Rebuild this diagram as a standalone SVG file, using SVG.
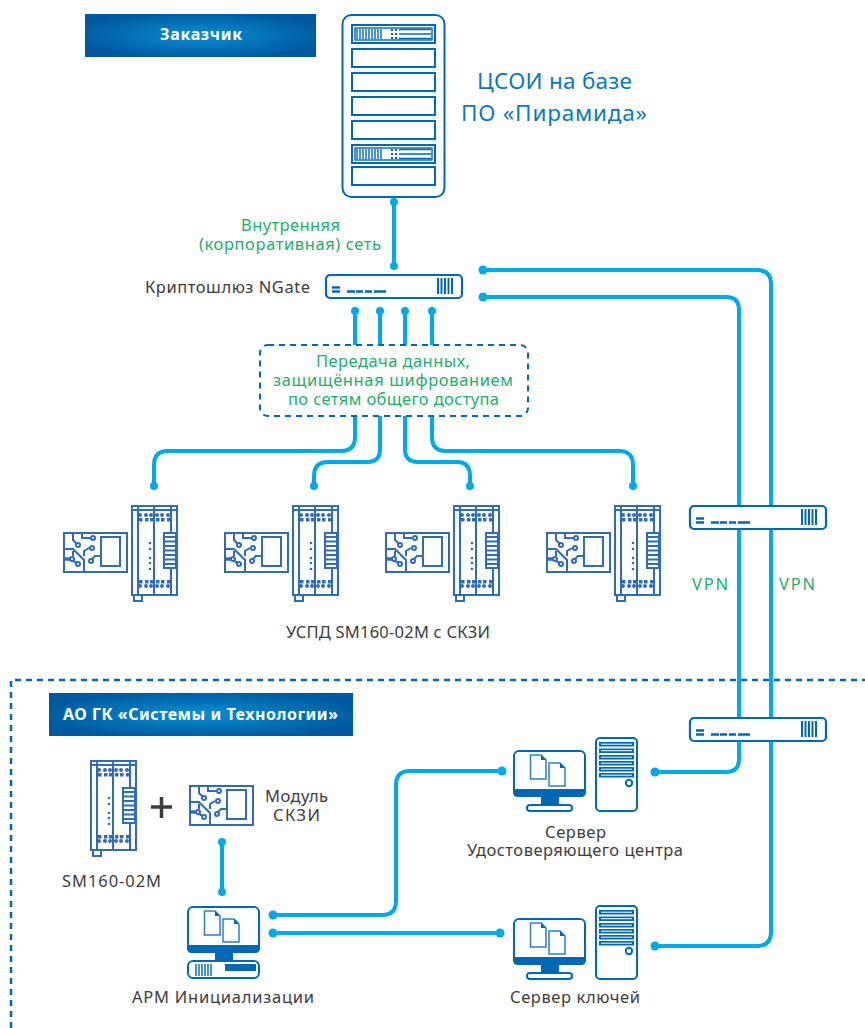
<svg xmlns="http://www.w3.org/2000/svg" width="865" height="1028" viewBox="0 0 865 1028">
<style>
text{font-family:"Noto Sans","Open Sans","DejaVu Sans",sans-serif}
.t{font-size:16.500px;fill:#3c3c3c;text-anchor:middle}
.g{font-size:16.500px;fill:#1fae6a;text-anchor:middle}
.b{font-size:22.500px;fill:#0a78bd;text-anchor:middle}
.w{font-size:16px;font-weight:700;fill:#fff;text-anchor:middle}
.s{fill:none;stroke:#0068b4;stroke-width:2}
.s1{fill:none;stroke:#0068b4;stroke-width:1.400}
.l{fill:none;stroke:#2f6cb5;stroke-width:2}
.f{fill:#0068b4}
.d{fill:#2f6cb5}
.c{fill:none;stroke:#00a9e8;stroke-width:4}
.p{fill:#00a9e8}
.dash{fill:none;stroke:#0068b4;stroke-width:2;stroke-dasharray:6 5}
.zone{fill:none;stroke:#0068b4;stroke-width:2.500;stroke-dasharray:6 5}
</style>
<defs>
<radialGradient id="bn" cx="0.5" cy="0.5" r="0.55"><stop offset="0" stop-color="#0a8fd2"/><stop offset="1" stop-color="#00599f"/></radialGradient>
<g id="slot"><rect x="0" y="0" width="83" height="18" class="s"/></g>
<g id="blade"><rect x="0" y="0" width="83" height="18" class="s"/><rect x="3" y="3" width="77" height="12" class="s1"/>
<path d="M5 4V14M8 4V14M11 4V14M14 4V14M17 4V14M20 4V14M23 4V14M26 4V14M29 4V14" class="s1"/>
<path d="M39 5h2M43 5h2M39 9h2M43 9h2M39 13h2M43 13h2" class="s"/><path d="M47 4.500H79M47 9H79M47 13.500H79" class="s1"/></g>
<g id="gw"><rect x="1" y="1" width="136" height="23" rx="4" fill="#fff" stroke="#0068b4" stroke-width="2.200"/>
<path d="M7 13.500h8M7 17.500h8" stroke="#0068b4" stroke-width="2.500" fill="none"/><path d="M22 17.500h8M31 17.500h7M40 17.500h7M49 17.500h12" stroke="#0068b4" stroke-width="2.500" fill="none"/>
<path d="M113 4V20M116.500 4V20M120 4V20M123.500 4V20M127 4V20" stroke="#0068b4" stroke-width="2" fill="none"/></g>
<g id="card"><rect x="1" y="1" width="63" height="39" class="l"/><rect x="38" y="5" width="19" height="29" class="l"/>
<path d="M10 1V8L14 12M19 1V6H27M1 17H10L21 28V40M10 19V24M21 24V19L26 16M37 24H32L29 27M10 29L14 31" class="l"/>
<path d="M1 27H8" stroke="#2f6cb5" stroke-width="3.500" fill="none"/>
<circle cx="15" cy="13" r="2" class="l"/><circle cx="30" cy="6" r="2" class="l"/><circle cx="9" cy="27" r="2" class="l"/><circle cx="15" cy="32" r="2" class="l"/><circle cx="29" cy="16" r="2" class="l"/><circle cx="28" cy="29" r="2" class="l"/></g>
<g id="din"><rect x="1" y="1" width="45" height="89" class="l"/><path d="M1 5H46M7 1V90M23 1V90M40 1V90" class="l"/><rect x="33" y="28" width="12" height="35" fill="#fff" stroke="#2f6cb5" stroke-width="2"/>
<path d="M34 32H44M34 36.500H44M34 41H44M34 45.500H44M34 50H44M34 54.500H44M34 59H44" stroke="#2f6cb5" stroke-width="2.200" fill="none"/>
<rect x="3" y="90" width="8" height="6" class="l"/>
<g class="d"><circle cx="9" cy="10" r="2"/><circle cx="15" cy="10" r="2"/><circle cx="20" cy="10" r="2"/><circle cx="26" cy="10" r="2"/><circle cx="31" cy="10" r="2"/><circle cx="37" cy="10" r="2"/>
<rect x="8" y="13" width="3.500" height="3.500"/><rect x="14" y="13" width="3.500" height="3.500"/><rect x="19" y="13" width="3.500" height="3.500"/><rect x="25" y="13" width="3.500" height="3.500"/><rect x="30" y="13" width="3.500" height="3.500"/><rect x="36" y="13" width="3.500" height="3.500"/>
<rect x="8" y="75" width="3.500" height="3.500"/><rect x="14" y="75" width="3.500" height="3.500"/><rect x="19" y="75" width="3.500" height="3.500"/><rect x="25" y="75" width="3.500" height="3.500"/><rect x="30" y="75" width="3.500" height="3.500"/><rect x="36" y="75" width="3.500" height="3.500"/>
<circle cx="9" cy="81" r="2"/><circle cx="15" cy="81" r="2"/><circle cx="20" cy="81" r="2"/><circle cx="26" cy="81" r="2"/><circle cx="31" cy="81" r="2"/><circle cx="37" cy="81" r="2"/>
<circle cx="19" cy="38" r="1.300"/><circle cx="19" cy="44" r="1.300"/><circle cx="19" cy="53" r="1.300"/><circle cx="19" cy="58" r="1.300"/><circle cx="19" cy="64" r="1.300"/></g></g>
<g id="mon"><rect x="1" y="1" width="71" height="45" rx="5" class="s"/><path d="M0 39H73V42Q73 47 68 47H5Q0 47 0 42Z" class="f"/><rect x="28" y="47" width="18" height="8" class="f"/>
<path d="M17.500 5H28L33 10V29H17.500Z" fill="#fff" stroke="#2a7fc2" stroke-width="1.500"/><path d="M36 13H47L52 18V36H36Z" fill="#fff" stroke="#2a7fc2" stroke-width="1.500"/>
<path d="M28 5L33 10H28ZM47 13L52 18H47Z" class="f"/></g>
<g id="tower"><rect x="1" y="1" width="41" height="73" rx="4" class="s"/>
<g class="f"><rect x="4" y="5" width="35" height="4.500"/><rect x="4" y="11.500" width="35" height="4.500"/><rect x="4" y="18" width="35" height="4.500"/><rect x="4" y="24" width="35" height="4.500"/><rect x="4" y="30" width="35" height="4.500"/><rect x="4" y="36" width="35" height="4.500"/></g>
<path d="M6 7.200H37M6 13.700H37M6 20.200H37M6 26.200H37M6 32.200H37M6 38.200H37" stroke="#fff" stroke-width="1"/>
<circle cx="34" cy="46" r="3.200" class="s"/></g>
</defs>
<rect width="865" height="1028" fill="#fff"/>

<g id="connectors">
<path class="c" d="M394 202V266"/>
<path class="c" d="M481 270H757Q771 270 771 284V932Q771 946 757 946H657"/>
<path class="c" d="M481 297H726Q739 297 739 310V759Q739 772 726 772H657"/>
<path class="c" d="M355 311V345M380 311V345M405 311V345M432 311V345"/>
<path class="c" d="M355 416V437Q355 451 341 451H168Q154 451 154 465V486"/>
<path class="c" d="M380 416V449Q380 462 367 462H328Q314 462 314 476V486"/>
<path class="c" d="M405 416V449Q405 462 418 462H457Q470 462 470 476V486"/>
<path class="c" d="M432 416V437Q432 451 446 451H619Q633 451 633 465V486"/>
<path class="c" d="M222 842V892"/>
<path class="c" d="M273 915H382Q396 915 396 901V785Q396 771 410 771H503"/>
<path class="c" d="M273 933H500"/>
<g class="p"><circle cx="394" cy="202" r="4"/><circle cx="394" cy="266" r="4"/><circle cx="483" cy="270" r="4.500"/><circle cx="483" cy="297" r="4.500"/><circle cx="355" cy="311" r="4"/><circle cx="380" cy="311" r="4"/><circle cx="405" cy="311" r="4"/><circle cx="432" cy="311" r="4"/><circle cx="154" cy="486" r="4"/><circle cx="314" cy="486" r="4"/><circle cx="470" cy="486" r="4"/><circle cx="633" cy="486" r="4"/><circle cx="655" cy="772" r="4.500"/><circle cx="655" cy="946" r="4.500"/><circle cx="222" cy="842" r="4"/><circle cx="222" cy="892" r="4"/><circle cx="273" cy="915" r="4.500"/><circle cx="273" cy="933" r="4.500"/><circle cx="502" cy="771" r="4.500"/><circle cx="500" cy="933" r="4.500"/></g>
</g>

<g id="zone"><path class="zone" d="M11 1028V680H865"/></g>

<g id="customer"><rect x="85" y="14" width="231" height="43" fill="url(#bn)"/><text class="w" x="201" y="40" textLength="82">Заказчик</text></g>
<g id="company"><rect x="49" y="693" width="304" height="43" fill="url(#bn)"/><text class="w" x="200.500" y="720" textLength="275">АО ГК «Системы и Технологии»</text></g>

<g id="tsoi"><rect x="342.500" y="15" width="102" height="182" rx="9" class="s"/>
<use href="#blade" x="352" y="25"/><use href="#slot" x="352" y="49"/><use href="#slot" x="352" y="73"/><use href="#slot" x="352" y="97"/><use href="#slot" x="352" y="121"/><use href="#blade" x="352" y="145"/><use href="#slot" x="352" y="167"/></g>
<g id="tsoi-label"><text class="b" x="554.500" y="89" textLength="155">ЦСОИ на базе</text><text class="b" x="554" y="121" textLength="186">ПО «Пирамида»</text></g>
<g id="net-label"><text class="g" x="290.500" y="231" textLength="99">Внутренняя</text><text class="g" x="290" y="250" textLength="182">(корпоративная) сеть</text></g>
<g id="ngate"><text class="t" x="227.500" y="293" textLength="165">Криптошлюз NGate</text><use href="#gw" x="325" y="274"/></g>
<g id="cloud"><rect x="260" y="345" width="268" height="71" rx="8" class="dash"/>
<text class="g" x="393" y="367" textLength="154">Передача данных,</text><text class="g" x="393" y="386" textLength="240">защищённая шифрованием</text><text class="g" x="393.500" y="405" textLength="211">по сетям общего доступа</text></g>

<g id="uspd1"><use href="#card" x="63" y="532"/><use href="#din" x="131" y="505"/></g>
<g id="uspd2"><use href="#card" x="224" y="532"/><use href="#din" x="292" y="505"/></g>
<g id="uspd3"><use href="#card" x="385" y="532"/><use href="#din" x="453" y="505"/></g>
<g id="uspd4"><use href="#card" x="546" y="532"/><use href="#din" x="614" y="505"/></g>
<g id="uspd-label"><text class="t" x="388" y="638" textLength="204">УСПД SM160-02M с СКЗИ</text></g>

<g id="gw-top"><use href="#gw" x="689" y="505"/></g>
<g id="gw-bottom"><use href="#gw" x="689" y="717"/></g>
<g id="vpn1"><text class="g" x="710" y="590" textLength="36">VPN</text></g>
<g id="vpn2"><text class="g" x="797" y="590" textLength="36">VPN</text></g>

<g id="sm160"><use href="#din" x="90" y="760"/><text class="t" x="111.500" y="887" textLength="99">SM160-02M</text></g>
<g id="plus"><path d="M151 807H172M161.500 797V818" stroke="#3c3c3c" stroke-width="3.500" fill="none"/></g>
<g id="module"><use href="#card" x="189" y="785"/><text class="t" x="296.500" y="802" textLength="63">Модуль</text><text class="t" x="296.500" y="821" textLength="47">СКЗИ</text></g>

<g id="arm"><use href="#mon" x="187" y="906"/><rect x="188" y="961" width="71" height="17" rx="5" class="s"/><path d="M196 964V976M199 964V976M202 964V976M205 964V976M208 964V976M211 964V976" class="s1"/><rect x="225" y="964" width="31" height="7" class="f"/>
<text class="t" x="223" y="1003" textLength="182">АРМ Инициализации</text></g>

<g id="uc"><use href="#mon" x="513" y="750"/><rect x="527" y="805" width="45" height="6" rx="3" class="s"/><use href="#tower" x="595" y="737"/>
<text class="t" x="575.500" y="838" textLength="61">Сервер</text><text class="t" x="575" y="856" textLength="216">Удостоверяющего центра</text></g>
<g id="keys"><use href="#mon" x="513" y="918"/><rect x="527" y="973" width="45" height="6" rx="3" class="s"/><use href="#tower" x="595" y="905"/>
<text class="t" x="575" y="1003" textLength="130">Сервер ключей</text></g>
</svg>
